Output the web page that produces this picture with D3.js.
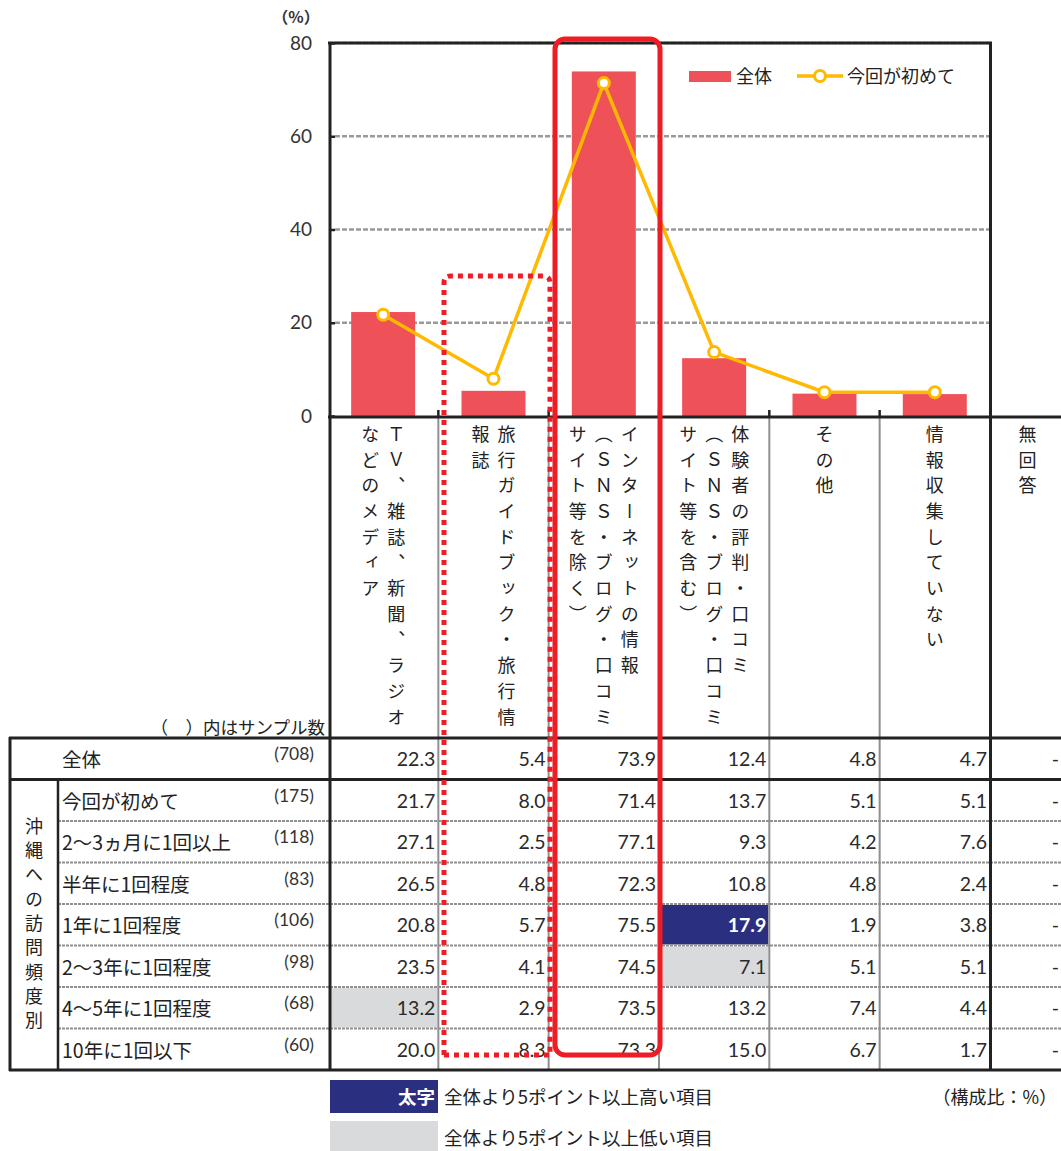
<!DOCTYPE html>
<html><head><meta charset="utf-8">
<script src="https://cdn.jsdelivr.net/npm/d3@7"></script>
<style>body{margin:0;background:#fff}svg{display:block}</style>
</head><body><svg id="c" width="1061" height="1151"></svg>
<script>
const categories = ["TV等","旅行ガイドブック","インターネット","体験者の評判","その他","情報収集していない","無回答"];
const categoryLines = [
  ["ＴＶ、雑誌、新聞、ラジオ","などのメディア"],
  ["旅行ガイドブック・旅行情","報誌"],
  ["インターネットの情報","（ＳＮＳ・ブログ・口コミ","サイト等を除く）"],
  ["体験者の評判・口コミ","（ＳＮＳ・ブログ・口コミ","サイト等を含む）"],
  ["その他"],
  ["情報収集していない"],
  ["無回答"]
];
const overallValues = [22.3, 5.4, 73.9, 12.4, 4.8, 4.7, null];
const firstTimeValues = [21.7, 8.0, 71.4, 13.7, 5.1, 5.1, null];
const yTicks = [0, 20, 40, 60, 80];
const seriesNames = ["全体", "今回が初めて"];
const rowLabels = ["全体","今回が初めて","2～3ヵ月に1回以上","半年に1回程度","1年に1回程度","2～3年に1回程度","4～5年に1回程度","10年に1回以下"];
const sampleSizes = ["(708)","(175)","(118)","(83)","(106)","(98)","(68)","(60)"];
const tableValues = [
  ["22.3","5.4","73.9","12.4","4.8","4.7","-"],
  ["21.7","8.0","71.4","13.7","5.1","5.1","-"],
  ["27.1","2.5","77.1","9.3","4.2","7.6","-"],
  ["26.5","4.8","72.3","10.8","4.8","2.4","-"],
  ["20.8","5.7","75.5","17.9","1.9","3.8","-"],
  ["23.5","4.1","74.5","7.1","5.1","5.1","-"],
  ["13.2","2.9","73.5","13.2","7.4","4.4","-"],
  ["20.0","8.3","73.3","15.0","6.7","1.7","-"]
];
const highCells = [[4, 3]];
const lowCells = [[6, 0], [5, 3]];
const groupLabel = "沖縄への訪問頻度別";

const W = 1061;
const JP = "'Noto Sans CJK JP','Noto Sans',sans-serif";
const NUM = "Lato,'Noto Sans',sans-serif";
const BAR = "#EF5158", LINE = "#FFB900", RED = "#EE1D25", NAVY = "#2B2F7F", GRAY = "#D9DADB";

const svg = d3.select("#c");
const x = d3.scaleBand().domain(categories).range([328, 1100.3]).paddingInner(0.42).paddingOuter(0.21);
const step = x.step();
const colLeft = i => 328 + i * step;
const y = d3.scaleLinear().domain([0, 80]).range([416, 43]);
const plotRight = colLeft(6);

// gridlines
svg.append("g").selectAll("line").data(yTicks.filter(d => d > 0)).join("line")
  .attr("x1", 335).attr("x2", plotRight).attr("y1", d => y(d)).attr("y2", d => y(d))
  .attr("stroke", "#9a9a9a").attr("stroke-width", 2.5).attr("stroke-dasharray", "5,2");

// y axis
const yAxis = d3.axisLeft(y).tickValues(yTicks).tickSize(-5).tickPadding(18);
const ya = svg.append("g").attr("transform", "translate(330,0)").call(yAxis);
ya.select(".domain").remove();
ya.selectAll(".tick line").attr("stroke", "#222").attr("stroke-width", 2.5);
ya.selectAll(".tick text").attr("font-family", NUM).attr("font-size", 19).attr("fill", "#333");
svg.append("text").attr("x", 296).attr("y", 23).attr("text-anchor", "middle")
  .attr("font-family", JP).attr("font-size", 16).attr("font-weight", "bold").attr("fill", "#333").text("（%）");

// bars
const bars = categories.map((c, i) => ({c, v: overallValues[i]})).filter(d => d.v != null);
svg.append("g").selectAll("rect").data(bars).join("rect")
  .attr("x", d => x(d.c)).attr("width", x.bandwidth())
  .attr("y", d => y(d.v)).attr("height", d => y(0) - y(d.v)).attr("fill", BAR);

// line
const pts = categories.map((c, i) => ({c, v: firstTimeValues[i]})).filter(d => d.v != null);
const line = d3.line().x(d => x(d.c) + x.bandwidth() / 2).y(d => y(d.v));
svg.append("path").datum(pts).attr("d", line).attr("fill", "none").attr("stroke", LINE).attr("stroke-width", 3.5);
svg.append("g").selectAll("circle").data(pts).join("circle")
  .attr("cx", d => x(d.c) + x.bandwidth() / 2).attr("cy", d => y(d.v)).attr("r", 5.5)
  .attr("fill", "#fff").attr("stroke", LINE).attr("stroke-width", 3);

// legend
const lg = svg.append("g").attr("font-family", JP).attr("font-size", 18).attr("fill", "#222");
lg.append("rect").attr("x", 689).attr("y", 71).attr("width", 42).attr("height", 11).attr("fill", BAR);
lg.append("text").attr("x", 736).attr("y", 83).text(seriesNames[0]);
lg.append("line").attr("x1", 797).attr("x2", 843).attr("y1", 76).attr("y2", 76).attr("stroke", LINE).attr("stroke-width", 3.5);
lg.append("circle").attr("cx", 820).attr("cy", 76).attr("r", 5.5).attr("fill", "#fff").attr("stroke", LINE).attr("stroke-width", 3);
lg.append("text").attr("x", 847).attr("y", 83).text(seriesNames[1]);

// x tick marks (inside, at column boundaries)
svg.append("g").selectAll("line").data(d3.range(1, 6)).join("line")
  .attr("x1", i => colLeft(i)).attr("x2", i => colLeft(i)).attr("y1", 410).attr("y2", 417)
  .attr("stroke", "#222").attr("stroke-width", 2.5);

// header vertical text
const hdr = svg.append("g").attr("font-family", JP).attr("font-size", 18).attr("fill", "#222");
categoryLines.forEach((lines, i) => {
  const cx = Math.min(x(categories[i]) + x.bandwidth() / 2, (colLeft(i) + W) / 2 + 2);
  const n = lines.length;
  lines.forEach((t, j) => {
    const lx = cx + ((n - 1) / 2 - j) * 26;
    hdr.append("text").attr("x", lx).attr("y", 425)
      .style("writing-mode", "vertical-rl").style("letter-spacing", "7.7px")
      .text(t);
  });
});

// table
const rowY = d3.scaleBand().domain(rowLabels).range([738, 1070]);
const rh = rowY.bandwidth();
const tb = svg.append("g");
highCells.forEach(([r, c]) => tb.append("rect").attr("x", colLeft(c) + 1).attr("y", rowY(rowLabels[r]) + 1)
  .attr("width", step - 2).attr("height", rh - 2).attr("fill", NAVY));
lowCells.forEach(([r, c]) => tb.append("rect").attr("x", colLeft(c) + 1).attr("y", rowY(rowLabels[r]) + 1)
  .attr("width", step - 2).attr("height", rh - 2).attr("fill", GRAY));

tb.selectAll(".rs").data(rowLabels.slice(2)).join("line")
  .attr("x1", 58).attr("x2", W).attr("y1", d => rowY(d)).attr("y2", d => rowY(d))
  .attr("stroke", "#8f8f8f").attr("stroke-width", 2).attr("stroke-dasharray", "3,1");
tb.selectAll(".cs").data(d3.range(1, 6)).join("line")
  .attr("x1", i => colLeft(i)).attr("x2", i => colLeft(i)).attr("y1", 417).attr("y2", 1070)
  .attr("stroke", "#8f8f8f").attr("stroke-width", 2);

const blk = (x1, y1, x2, y2, w) => tb.append("line").attr("x1", x1).attr("y1", y1).attr("x2", x2).attr("y2", y2)
  .attr("stroke", "#222").attr("stroke-width", w);
blk(328, 43, 992, 43, 3);
blk(330, 42, 330, 1071, 3);
blk(990.5, 42, 990.5, 1071, 3);
blk(328, 417, W, 417, 3);
blk(9, 738, W, 738, 3);
blk(9, rowY(rowLabels[1]), W, rowY(rowLabels[1]), 3);
blk(9, 1070, W, 1070, 3);
blk(10, 737, 10, 1071, 3);
blk(58, rowY(rowLabels[1]), 58, 1070, 2.5);

const tt = svg.append("g");
tt.append("text").attr("x", 325).attr("y", 734).attr("text-anchor", "end")
  .attr("font-family", JP).attr("font-size", 17.5).attr("fill", "#222").text("（　）内はサンプル数");
rowLabels.forEach((lab, r) => {
  const top = rowY(lab);
  tt.append("text").attr("x", 62).attr("y", top + 29).attr("font-family", JP).attr("font-size", 19.5)
    .attr("fill", "#222").text(lab);
  tt.append("text").attr("x", 314).attr("y", top + 22).attr("text-anchor", "end").attr("font-family", NUM)
    .attr("font-size", 17.5).attr("fill", "#333").text(sampleSizes[r]);
  tableValues[r].forEach((v, c) => {
    const hi = highCells.some(([a, b]) => a === r && b === c);
    tt.append("text").attr("x", Math.min(colLeft(c + 1) - 3, W - 2)).attr("y", top + 28).attr("text-anchor", "end")
      .attr("font-family", NUM).attr("font-size", 19.5).attr("font-weight", hi ? "bold" : "normal")
      .attr("fill", hi ? "#fff" : "#2a2a2a").text(v);
  });
});
tt.append("text").attr("x", 34).attr("y", 817).attr("font-family", JP).attr("font-size", 18).attr("fill", "#222")
  .style("writing-mode", "vertical-rl").style("letter-spacing", "6.3px").text(groupLabel);

// red frames
svg.append("rect").attr("x", 555).attr("y", 39).attr("width", 105).attr("height", 1016).attr("rx", 10)
  .attr("fill", "none").attr("stroke", RED).attr("stroke-width", 5);
svg.append("path").attr("d", "M444,1055 L444,283 Q444,276 451,276 L543,276 Q550,276 550,283 L550,1055")
  .attr("fill", "none").attr("stroke", RED).attr("stroke-width", 5).attr("stroke-dasharray", "5,5");
svg.append("line").attr("x1", 444).attr("x2", 550).attr("y1", 1055).attr("y2", 1055)
  .attr("stroke", RED).attr("stroke-width", 5).attr("stroke-dasharray", "5,5");

// bottom legend
const bl = svg.append("g").attr("font-family", JP).attr("font-size", 18.5).attr("fill", "#222");
bl.append("rect").attr("x", 330).attr("y", 1080).attr("width", 108).attr("height", 33).attr("fill", NAVY);
bl.append("text").attr("x", 435).attr("y", 1104).attr("text-anchor", "end").attr("fill", "#fff").attr("font-weight", "bold").text("太字");
bl.append("text").attr("x", 444).attr("y", 1104).text("全体より5ポイント以上高い項目");
bl.append("rect").attr("x", 330).attr("y", 1121).attr("width", 108).attr("height", 30).attr("fill", GRAY);
bl.append("text").attr("x", 444).attr("y", 1145).text("全体より5ポイント以上低い項目");
bl.append("text").attr("x", 1057).attr("y", 1104).attr("text-anchor", "end").attr("font-size", 18).text("（構成比：%）");
</script></body></html>
